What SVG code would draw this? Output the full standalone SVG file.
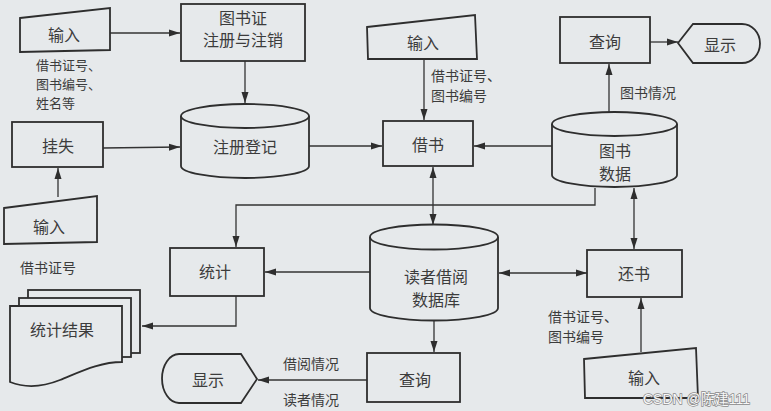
<svg xmlns="http://www.w3.org/2000/svg" width="771" height="411" viewBox="0 0 771 411">
<defs>
<style>
.s{fill:none;stroke:#2e2e2e;stroke-width:1.8}
.f{fill:#e6e9eb;stroke:#2e2e2e;stroke-width:1.8}
.c{fill:none;stroke:#333;stroke-width:1.3}
.t{font-family:"Noto Sans CJK SC","Noto Sans",sans-serif;font-size:16px;fill:#3c3c3c;text-anchor:middle;dominant-baseline:central}
.l{font-family:"Noto Sans CJK SC","Noto Sans",sans-serif;font-size:14px;fill:#3c3c3c}
.l2{font-family:"Noto Sans CJK SC","Noto Sans",sans-serif;font-size:13px;fill:#3c3c3c}
.wm{font-family:"Liberation Sans","Noto Sans CJK SC",sans-serif;font-size:14px;fill:#f8f8f8;stroke:#8a8a8a;stroke-width:1.4;paint-order:stroke}
</style>
<marker id="a" markerUnits="userSpaceOnUse" markerWidth="11" markerHeight="8" refX="11" refY="4" orient="auto-start-reverse"><path d="M0,0.5 L11,4 L0,7.5 Z" fill="#2e2e2e"/></marker>
</defs>
<rect width="771" height="411" fill="#e6e9eb"/>

<g id="connectors">
<line class="c" x1="110" y1="33" x2="180" y2="33" marker-end="url(#a)"/>
<line class="c" x1="245" y1="61" x2="245" y2="103" marker-end="url(#a)"/>
<line class="c" x1="103" y1="148" x2="180" y2="147" marker-end="url(#a)"/>
<line class="c" x1="58" y1="197" x2="58" y2="168" marker-end="url(#a)"/>
<line class="c" x1="309" y1="146" x2="382" y2="146" marker-end="url(#a)"/>
<line class="c" x1="424" y1="59" x2="424" y2="120" marker-end="url(#a)"/>
<line class="c" x1="552" y1="146" x2="474" y2="146" marker-end="url(#a)"/>
<line class="c" x1="609" y1="112" x2="609" y2="64" marker-end="url(#a)"/>
<line class="c" x1="650" y1="42" x2="678" y2="42" marker-end="url(#a)"/>
<polyline class="c" points="595,188 595,205 236,205 236,247" marker-end="url(#a)"/>
<line class="c" x1="433" y1="167" x2="433" y2="225" marker-start="url(#a)" marker-end="url(#a)"/>
<line class="c" x1="370" y1="272" x2="265" y2="272" marker-end="url(#a)"/>
<polyline class="c" points="236,296 236,326 142,326" marker-end="url(#a)"/>
<line class="c" x1="499" y1="273" x2="587" y2="273" marker-start="url(#a)" marker-end="url(#a)"/>
<line class="c" x1="634" y1="188" x2="634" y2="249" marker-start="url(#a)" marker-end="url(#a)"/>
<line class="c" x1="641" y1="352" x2="641" y2="298" marker-end="url(#a)"/>
<line class="c" x1="434" y1="320" x2="434" y2="352" marker-end="url(#a)"/>
<line class="c" x1="367" y1="380" x2="258" y2="380" marker-end="url(#a)"/>
</g>

<g id="labels">
<text class="l2" x="36" y="70">借书证号、</text>
<text class="l2" x="36" y="89">图书编号、</text>
<text class="l2" x="36" y="108">姓名等</text>
<text class="l" x="431" y="81">借书证号、</text>
<text class="l" x="431" y="101">图书编号</text>
<text class="l" x="620" y="98">图书情况</text>
<text class="l" x="20" y="273">借书证号</text>
<text class="l" x="283" y="369">借阅情况</text>
<text class="l" x="283" y="405">读者情况</text>
<text class="l" x="548" y="322">借书证号、</text>
<text class="l" x="548" y="342">图书编号</text>
</g>

<g id="input1">
<polygon class="f" points="20,18 110,8 110,50 20,52"/>
<text class="t" x="64" y="34">输入</text>
</g>
<g id="card">
<rect class="f" x="181" y="4" width="124" height="57"/>
<text class="t" x="243" y="17">图书证</text>
<text class="t" x="243" y="39">注册与注销</text>
</g>
<g id="register">
<path class="f" d="M181,116 A64,12 0 0 1 309,116 L309,166 A64,12 0 0 1 181,166 Z"/>
<path class="s" d="M181,116 A64,12 0 0 0 309,116"/>
<text class="t" x="245" y="146">注册登记</text>
</g>
<g id="lost">
<rect class="f" x="12" y="122" width="91" height="45"/>
<text class="t" x="58" y="145">挂失</text>
</g>
<g id="input2">
<polygon class="f" points="4,208 97,196 97,242 4,244"/>
<text class="t" x="49" y="226">输入</text>
</g>
<g id="input3">
<polygon class="f" points="367,27 475,15 477,59 368,59"/>
<text class="t" x="423" y="42">输入</text>
</g>
<g id="borrow">
<rect class="f" x="383" y="121" width="90" height="45"/>
<text class="t" x="428" y="144">借书</text>
</g>
<g id="bookdata">
<path class="f" d="M552,124 A62.5,12 0 0 1 677,124 L677,175 A62.5,12 0 0 1 552,175 Z"/>
<path class="s" d="M552,124 A62.5,12 0 0 0 677,124"/>
<text class="t" x="615" y="150">图书</text>
<text class="t" x="615" y="173">数据</text>
</g>
<g id="query1">
<rect class="f" x="560" y="17" width="90" height="46"/>
<text class="t" x="605" y="41">查询</text>
</g>
<g id="display1">
<path class="f" d="M678,43 L693,24 L742,24 A18,19.5 0 0 1 742,63 L693,63 Z"/>
<text class="t" x="720" y="44">显示</text>
</g>
<g id="stat">
<rect class="f" x="170" y="248" width="94" height="48"/>
<text class="t" x="215" y="271">统计</text>
</g>
<g id="result">
<rect class="f" x="28" y="290" width="112" height="63"/>
<rect class="f" x="19" y="298" width="112" height="59"/>
<path class="f" d="M10,306 H122 V362 C100,362 80,372 60,380 C40,388 25,388 10,382 Z"/>
<text class="t" x="62" y="329">统计结果</text>
</g>
<g id="readerdb">
<path class="f" d="M370,237 A64,12.5 0 0 1 498,237 L498,308 A64,12.5 0 0 1 370,308 Z"/>
<path class="s" d="M370,237 A64,12.5 0 0 0 498,237"/>
<text class="t" x="436" y="276">读者借阅</text>
<text class="t" x="436" y="299">数据库</text>
</g>
<g id="return">
<rect class="f" x="587" y="250" width="95" height="47"/>
<text class="t" x="634" y="273">还书</text>
</g>
<g id="input4">
<polygon class="f" points="584,359 696,348 698,398 585,398"/>
<text class="t" x="644" y="377">输入</text>
</g>
<g id="query2">
<rect class="f" x="367" y="353" width="93" height="49"/>
<text class="t" x="415" y="379">查询</text>
</g>
<g id="display2">
<path class="f" d="M257,379 L241,354 L179,354 A17,24.5 0 0 0 179,403 L241,403 Z"/>
<text class="t" x="208" y="379">显示</text>
</g>
<text class="wm" x="643" y="404">CSDN @陈建111</text>
</svg>
